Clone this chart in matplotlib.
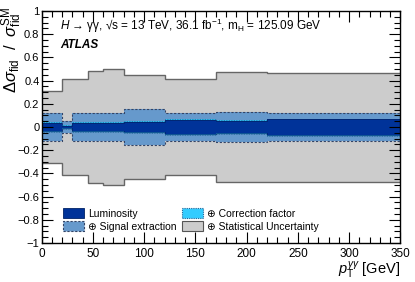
import numpy as np
import matplotlib
matplotlib.use("Agg")
import matplotlib.pyplot as plt
from matplotlib.patches import Patch
from matplotlib.ticker import MultipleLocator

plt.rcParams['font.family'] = ['Liberation Sans', 'DejaVu Sans']
plt.rcParams['mathtext.fontset'] = 'custom'
plt.rcParams['mathtext.rm'] = 'Liberation Sans'
plt.rcParams['mathtext.it'] = 'Liberation Sans:italic'
plt.rcParams['mathtext.bf'] = 'Liberation Sans:bold'

# bin edges in pT (GeV) and symmetric relative uncertainties per bin
edges = [0, 20, 30, 45, 60, 80, 120, 170, 220, 350]
stat_unc = [0.31, 0.41, 0.41, 0.48, 0.50, 0.445, 0.41, 0.474, 0.47]
sig_unc = [0.124, 0.05, 0.124, 0.124, 0.124, 0.152, 0.124, 0.132, 0.124]
corr_unc = [0.040, 0.020, 0.040, 0.040, 0.046, 0.054, 0.071, 0.060, 0.073]
lumi_unc = [0.032, 0.012, 0.032, 0.032, 0.038, 0.046, 0.063, 0.052, 0.065]

c_stat, c_sig, c_corr, c_lumi = '#cccccc', '#6699cc', '#33ccff', '#003399'

fig = plt.figure(figsize=(4.15, 2.82), dpi=100)
ax = fig.add_axes([0.1, 0.138, 0.865, 0.823])

def band(unc, color, edge, ls, lw=1.0):
    up = np.array(unc)
    ax.stairs(up, edges, baseline=-up, fill=True, color=color, lw=0)
    if edge is not None:
        ax.stairs(up, edges, baseline=None, color=edge, ls=ls, lw=lw)
        ax.stairs(-up, edges, baseline=None, color=edge, ls=ls, lw=lw)

band(stat_unc, c_stat, '#666666', '-', 1.0)
band(sig_unc, c_sig, '#334466', (0, (2, 1.5)), 0.8)
band(corr_unc, c_corr, '#226699', (0, (1, 1)), 0.6)
band(lumi_unc, c_lumi, '#002266', '-', 0.5)

ax.set_xlim(0, 350)
ax.set_ylim(-1, 1)
ax.xaxis.set_major_locator(MultipleLocator(50))
ax.xaxis.set_minor_locator(MultipleLocator(10))
ax.yaxis.set_minor_locator(MultipleLocator(0.05))
ax.tick_params(which='both', direction='in', top=True, right=True, labelsize=8.5)
ax.tick_params(which='major', length=8, width=0.8)
ax.tick_params(which='minor', length=4, width=0.8)
ax.tick_params(axis='y', pad=1.5, labelsize=8)
ax.set_yticks(np.arange(-1, 1.01, 0.2))
ax.set_yticklabels(['\u22121', '\u22120.8', '\u22120.6', '\u22120.4', '\u22120.2', '0',
                    '0.2', '0.4', '0.6', '0.8', '1'])
for s in ax.spines.values():
    s.set_linewidth(1.0)

ax.text(18, 0.875, '$H$ \u2192 \u03b3\u03b3, \u221as = 13 TeV, 36.1 fb$^{-1}$, m$_{\\rm H}$ = 125.09 GeV',
        fontsize=8.5, va='center')
ax.text(18, 0.71, 'ATLAS', fontsize=8.5, fontweight='bold', style='italic', va='center')

ax.set_xlabel(r'$p_{\rm T}^{\gamma\gamma}$ [GeV]', fontsize=10.5, loc='right', labelpad=0)
fig.text(12 / 415, 1 - 7 / 282, r'$\Delta\sigma_{\rm fid}$  /  $\sigma_{\rm fid}^{\rm SM}$',
         rotation=90, ha='center', va='top', fontsize=12)

handles = [
    Patch(facecolor=c_lumi, edgecolor='#002266', lw=0.6),
    Patch(facecolor=c_sig, edgecolor='#334466', ls=(0, (2, 1.5)), lw=0.8),
    Patch(facecolor=c_corr, edgecolor='#226699', ls=(0, (1, 1)), lw=0.8),
    Patch(facecolor=c_stat, edgecolor='#555555', lw=0.8),
]
labels = ['Luminosity', '\u2295 Signal extraction', '\u2295 Correction factor',
          '\u2295 Statistical Uncertainty']
ax.legend(handles, labels, ncol=2, loc='lower left', bbox_to_anchor=(0.055, 0.04),
          frameon=False, fontsize=7.5, handlelength=2.0, handleheight=1.1,
          handletextpad=0.4, columnspacing=0.5, labelspacing=0.25,
          borderaxespad=0, borderpad=0.2)

fig.savefig('out.png', dpi=100)
